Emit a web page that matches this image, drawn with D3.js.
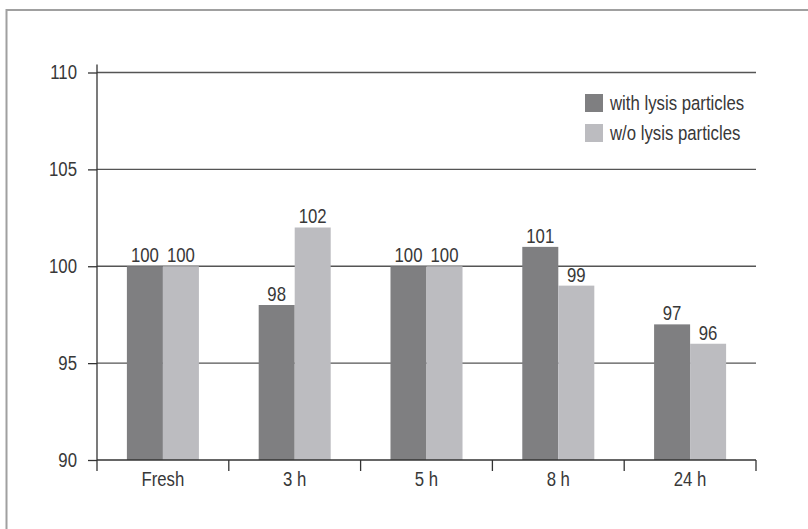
<!DOCTYPE html>
<html>
<head>
<meta charset="utf-8">
<script src="https://cdn.jsdelivr.net/npm/d3@7"></script>
<style>
  html, body { margin: 0; padding: 0; background: #fff; }
  svg text { font-family: "Liberation Sans", Arial, sans-serif; fill: #383838; }
</style>
</head>
<body>
<svg id="chart" width="808" height="529"></svg>
<script>
// Time points and the two measured series
const categories = ["Fresh", "3 h", "5 h", "8 h", "24 h"];
const withLysis = [100, 98, 100, 101, 97];
const withoutLysis = [100, 102, 100, 99, 96];
const seriesNames = ["with lysis particles", "w/o lysis particles"];
const yTicks = [90, 95, 100, 105, 110];

const colors = ["#7f7f81", "#bcbcc0"];
const fontSize = 19.5;
const squeeze = 0.86;   // horizontal squeeze to get a condensed look

// narrow every text horizontally while keeping its anchor position
function condense(sel) {
  sel.each(function () {
    const t = d3.select(this);
    const x0 = +t.attr("x") || 0;
    t.attr("x", x0 / squeeze).attr("transform", `scale(${squeeze},1)`);
  });
}

const svg = d3.select("#chart");

// frame around the figure
svg.append("path")
  .attr("d", "M6.5,529 V10 H808")
  .attr("fill", "none")
  .attr("stroke", "#a0a0a0")
  .attr("stroke-width", 2);

const plotLeft = 97, plotRight = 756, plotTop = 72.5, plotBottom = 460;

const x = d3.scaleBand().domain(categories).range([plotLeft, plotRight]).paddingInner(0).paddingOuter(0);
const inner = d3.scaleBand().domain([0, 1]).range([0, x.bandwidth()]).paddingOuter(0.83).paddingInner(0);
const y = d3.scaleLinear().domain([90, 110]).range([plotBottom, plotTop]);

// horizontal gridlines
svg.append("g")
  .selectAll("line")
  .data(yTicks.filter(t => t > 90))
  .join("line")
  .attr("x1", plotLeft).attr("x2", plotRight)
  .attr("y1", d => y(d)).attr("y2", d => y(d))
  .attr("stroke", "#555")
  .attr("stroke-width", 1.3);

// bars
const data = categories.map((c, i) => ({ cat: c, vals: [withLysis[i], withoutLysis[i]] }));
const groups = svg.append("g").selectAll("g")
  .data(data)
  .join("g")
  .attr("transform", d => `translate(${x(d.cat)},0)`);

groups.selectAll("rect")
  .data(d => d.vals.map((v, k) => ({ v, k })))
  .join("rect")
  .attr("x", d => inner(d.k))
  .attr("width", inner.bandwidth())
  .attr("y", d => y(d.v))
  .attr("height", d => y(90) - y(d.v))
  .attr("fill", d => colors[d.k]);

groups.selectAll("text.val")
  .data(d => d.vals.map((v, k) => ({ v, k })))
  .join("text")
  .attr("class", "val")
  .attr("x", d => inner(d.k) + inner.bandwidth() / 2)
  .attr("y", d => y(d.v) - 4)
  .attr("text-anchor", "middle")
  .attr("font-size", fontSize)
  .text(d => d.v);

// y axis
const yAxis = svg.append("g")
  .attr("transform", `translate(${plotLeft},0)`)
  .call(d3.axisLeft(y).tickValues(yTicks).tickSize(9).tickPadding(11).tickSizeOuter(0));
yAxis.attr("font-family", null).attr("font-size", null);
yAxis.select(".domain").attr("stroke", "#333").attr("stroke-width", 1.3)
  .attr("d", `M0,${plotBottom}V${plotTop - 8}`);
yAxis.selectAll(".tick line").attr("stroke", "#333").attr("stroke-width", 1.3);
yAxis.selectAll(".tick text").attr("font-size", fontSize).attr("fill", "#383838");

// x axis with ticks at band boundaries
const xAxis = svg.append("g").attr("transform", `translate(0,${plotBottom})`);
xAxis.append("line")
  .attr("x1", plotLeft).attr("x2", plotRight)
  .attr("stroke", "#333").attr("stroke-width", 1.3);
const boundaries = categories.map(c => x(c)).concat([plotRight]);
xAxis.selectAll("line.b")
  .data(boundaries)
  .join("line")
  .attr("class", "b")
  .attr("x1", d => d).attr("x2", d => d)
  .attr("y1", 0).attr("y2", 11)
  .attr("stroke", "#333").attr("stroke-width", 1.3);
xAxis.selectAll("text")
  .data(categories)
  .join("text")
  .attr("x", d => x(d) + x.bandwidth() / 2)
  .attr("y", 26)
  .attr("text-anchor", "middle")
  .attr("font-size", fontSize)
  .text(d => d);

// legend
const legend = svg.append("g").attr("transform", "translate(585,94)");
const items = legend.selectAll("g")
  .data(seriesNames)
  .join("g")
  .attr("transform", (d, i) => `translate(0,${i * 30})`);
items.append("rect").attr("width", 18).attr("height", 18).attr("fill", (d, i) => colors[i]);
items.append("text").attr("x", 25).attr("y", 16).attr("font-size", fontSize).text(d => d);

svg.selectAll("text").call(condense);
</script>
</body>
</html>
